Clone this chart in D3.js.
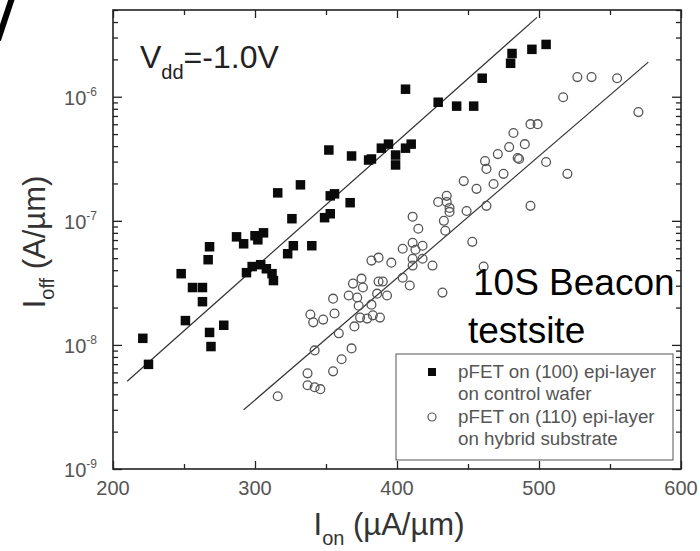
<!DOCTYPE html>
<meta charset="utf-8">
<script src="https://d3js.org/d3.v7.min.js"></script>
<style>
  body { margin: 0; background: #fff; }
  text { font-family: "Liberation Sans", Arial, sans-serif; }
</style>
<div id="chart"></div>
<script>

// pFET on (100) epi-layer, control wafer
var ionControl = [221, 225, 248, 251, 256, 263, 263, 267, 268, 268,
  269, 278, 287, 292, 300, 302, 306, 294, 298, 304,
  308, 312, 313, 316, 323, 326, 327, 332, 340, 349,
  353, 353, 356, 352, 367, 368, 380, 382, 389, 394,
  399, 399, 406, 410, 406, 429, 442, 454, 460, 480,
  481, 495, 505];
var ioffControl = [1.13e-8, 6.97e-9, 3.75e-8, 1.57e-8, 2.9e-8, 2.9e-8, 2.23e-8, 4.86e-8, 6.18e-8, 1.26e-8,
  9.7e-9, 1.44e-8, 7.43e-8, 6.53e-8, 7.58e-8, 7.03e-8, 8.0e-8, 3.82e-8, 4.28e-8, 4.43e-8,
  4.11e-8, 3.75e-8, 3.3e-8, 1.68e-7, 5.43e-8, 1.04e-7, 6.3e-8, 1.95e-7, 6.3e-8, 1.06e-7,
  1.14e-7, 1.59e-7, 1.65e-7, 3.72e-7, 1.4e-7, 3.33e-7, 3.09e-7, 3.15e-7, 3.85e-7, 4.15e-7,
  3.39e-7, 2.82e-7, 3.85e-7, 4.15e-7, 1.15e-6, 9.03e-7, 8.4e-7, 8.4e-7, 1.41e-6, 1.86e-6,
  2.23e-6, 2.41e-6, 2.64e-6];

// pFET on (110) epi-layer, hybrid substrate
var ionHybrid = [316, 337, 337, 342, 346, 355, 361, 368, 342, 359,
  370, 339, 341, 348, 355, 356, 366, 372, 369, 375,
  376, 373, 374, 379, 383, 388, 382, 386, 387, 390,
  393, 382, 387, 396, 404, 409, 411, 418, 425, 411,
  404, 413, 411, 418, 411, 415, 433, 434, 429, 435,
  435, 437, 437, 447, 449, 456, 453, 461, 432, 462,
  463, 468, 463, 471, 475, 479, 485, 486, 490, 482,
  494, 499, 505, 494, 520, 517, 527, 537, 555, 570];
var ioffHybrid = [3.86e-9, 5.9e-9, 4.73e-9, 4.56e-9, 4.4e-9, 6.12e-9, 7.66e-9, 9.37e-9, 9.03e-9, 1.24e-8,
  1.41e-8, 1.76e-8, 1.52e-8, 1.6e-8, 2.36e-8, 1.79e-8, 2.5e-8, 2.41e-8, 3.12e-8, 3.42e-8,
  2.9e-8, 2.07e-8, 1.66e-8, 1.63e-8, 1.73e-8, 1.66e-8, 2.11e-8, 2.59e-8, 3.24e-8, 3.24e-8,
  2.5e-8, 4.78e-8, 5.05e-8, 4.6e-8, 3.48e-8, 3.01e-8, 4.95e-8, 4.95e-8, 4.36e-8, 4.36e-8,
  5.96e-8, 5.85e-8, 6.65e-8, 6.3e-8, 1.08e-7, 8.63e-8, 1.0e-7, 8.32e-8, 1.42e-7, 1.59e-7,
  1.42e-7, 1.27e-7, 1.18e-7, 2.09e-7, 1.2e-7, 1.81e-7, 6.77e-8, 4.28e-8, 2.64e-8, 3.03e-7,
  2.62e-7, 1.98e-7, 1.32e-7, 3.45e-7, 2.39e-7, 3.93e-7, 3.21e-7, 3.15e-7, 4.15e-7, 5.1e-7,
  6.01e-7, 6.01e-7, 2.98e-7, 1.32e-7, 2.39e-7, 9.9e-7, 1.44e-6, 1.44e-6, 1.41e-6, 7.52e-7];

// fitted trend lines (end points)
var fitControlX = [210, 498.6], fitControlY = [5.1e-9, 4.36e-6];
var fitHybridX = [292, 577], fitHybridY = [3.0e-9, 1.9e-6];

var xTicks = [200, 300, 400, 500, 600];
var xMinor = [250, 350, 450, 550];
var yTicks = [1e-9, 1e-8, 1e-7, 1e-6];
var yTickExp = ["-9", "-8", "-7", "-6"];
var legendLabels = [["pFET on (100) epi-layer", "on control wafer"],
                    ["pFET on (110) epi-layer", "on hybrid substrate"]];

var W = 700, H = 551;
var pL = 113, pR = 681, pT = 10, pB = 469;

var svg = d3.select("#chart").append("svg")
    .attr("width", W).attr("height", H);

var x = d3.scaleLinear().domain([200, 600]).range([pL, pR]);
var y = d3.scaleLog().domain([1e-9, 5e-6]).range([pB, pT]);

// minor log ticks 2..9 per decade
var yMinor = y.ticks().filter(function(d) {
  var m = d / Math.pow(10, Math.floor(Math.log10(d) + 1e-9));
  return Math.abs(m - 1) > 1e-6;
});

function tickAxis(axis, tr, major, minor, big, small) {
  var g = svg.append("g").attr("transform", tr);
  g.call(axis.tickValues(minor).tickSize(-small).tickFormat(""));
  g.append("g").call(axis.tickValues(major).tickSize(-big).tickFormat(""));
  g.selectAll(".domain").remove();
  g.selectAll("line").attr("stroke", "#222").attr("stroke-width", 1.3);
}
tickAxis(d3.axisBottom(x), "translate(0," + pB + ")", xTicks, xMinor, 8, 5);
tickAxis(d3.axisTop(x), "translate(0," + pT + ")", xTicks, xMinor, 8, 5);
tickAxis(d3.axisLeft(y), "translate(" + pL + ",0)", yTicks, yMinor, 9, 5);
tickAxis(d3.axisRight(y), "translate(" + pR + ",0)", yTicks, yMinor, 9, 5);

svg.append("rect")
    .attr("x", pL).attr("y", pT)
    .attr("width", pR - pL).attr("height", pB - pT)
    .attr("fill", "none").attr("stroke", "#222").attr("stroke-width", 1.6);

// tick labels
svg.selectAll(".xl").data(xTicks).enter().append("text")
    .attr("x", function(d) { return x(d); })
    .attr("y", pB + 26)
    .attr("text-anchor", "middle")
    .attr("font-size", 20).attr("fill", "#555")
    .text(function(d) { return d; });

var yl = svg.selectAll(".yl").data(yTicks).enter().append("text")
    .attr("x", 97)
    .attr("y", function(d) { return y(d) + 8; })
    .attr("text-anchor", "end")
    .attr("font-size", 20).attr("fill", "#555");
yl.append("tspan").text("10");
yl.append("tspan").attr("dy", -9).attr("font-size", 12)
    .text(function(d, i) { return yTickExp[i]; });

// fit lines
var line = d3.line().x(function(d) { return x(d[0]); }).y(function(d) { return y(d[1]); });
[[fitControlX, fitControlY], [fitHybridX, fitHybridY]].forEach(function(f) {
  svg.append("path")
      .attr("d", line(d3.zip(f[0], f[1])))
      .attr("fill", "none").attr("stroke", "#333").attr("stroke-width", 1.2);
});

// data
var sq = 9.5;
svg.selectAll(".ctl").data(d3.zip(ionControl, ioffControl)).enter().append("rect")
    .attr("x", function(d) { return x(d[0]) - sq / 2; })
    .attr("y", function(d) { return y(d[1]) - sq / 2; })
    .attr("width", sq).attr("height", sq)
    .attr("fill", "#0a0a0a");

svg.selectAll(".hyb").data(d3.zip(ionHybrid, ioffHybrid)).enter().append("circle")
    .attr("cx", function(d) { return x(d[0]); })
    .attr("cy", function(d) { return y(d[1]); })
    .attr("r", 4.4)
    .attr("fill", "none").attr("stroke", "#555").attr("stroke-width", 1.3);

// Vdd annotation
var vdd = svg.append("text").attr("x", 140).attr("y", 68)
    .attr("font-size", 32).attr("fill", "#222");
vdd.append("tspan").text("V");
vdd.append("tspan").attr("dy", 11).attr("font-size", 20).text("dd");
vdd.append("tspan").attr("dy", -11).text("=-1.0V");

// testsite annotation
svg.append("text").attr("x", 473).attr("y", 295)
    .attr("font-size", 37).attr("fill", "#000").text("10S Beacon");
svg.append("text").attr("x", 468).attr("y", 343)
    .attr("font-size", 37).attr("fill", "#000").text("testsite");

// legend
svg.append("rect")
    .attr("x", 396).attr("y", 354).attr("width", 277).attr("height", 106)
    .attr("fill", "#fff").attr("stroke", "#555").attr("stroke-width", 1);
svg.append("rect").attr("x", 428).attr("y", 368).attr("width", 8).attr("height", 8).attr("fill", "#0a0a0a");
svg.append("circle").attr("cx", 432).attr("cy", 417).attr("r", 4)
    .attr("fill", "none").attr("stroke", "#555").attr("stroke-width", 1.2);
legendLabels.forEach(function(lines, i) {
  lines.forEach(function(t, j) {
    svg.append("text")
        .attr("x", 458).attr("y", 378 + i * 45 + j * 22)
        .attr("font-size", 18.8).attr("fill", "#555").text(t);
  });
});

// axis titles
var yt = svg.append("text")
    .attr("transform", "translate(45,242) rotate(-90)")
    .attr("text-anchor", "middle")
    .attr("font-size", 31).attr("fill", "#333");
yt.append("tspan").text("I");
yt.append("tspan").attr("dy", 9).attr("font-size", 20).text("off");
yt.append("tspan").attr("dy", -9).text(" (A/\u00b5m)");

var xt = svg.append("text")
    .attr("x", 389).attr("y", 535)
    .attr("text-anchor", "middle")
    .attr("font-size", 31).attr("fill", "#333");
xt.append("tspan").text("I");
xt.append("tspan").attr("dy", 10).attr("font-size", 20).text("on");
xt.append("tspan").attr("dy", -10).text(" (\u00b5A/\u00b5m)");

// cropped stroke at top-left corner of the figure
svg.append("line").attr("x1", -2).attr("y1", 40).attr("x2", 12).attr("y2", -2)
    .attr("stroke", "#000").attr("stroke-width", 6);

</script>
